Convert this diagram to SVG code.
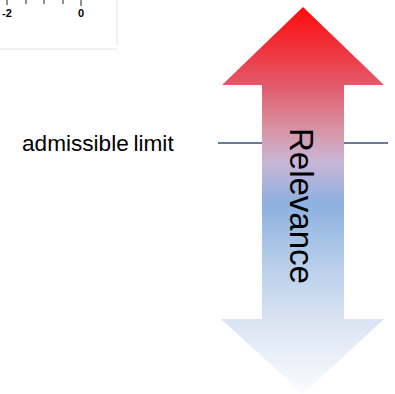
<svg xmlns="http://www.w3.org/2000/svg" width="395" height="394" viewBox="0 0 395 394">
<style>
.lbl{font-family:"Liberation Sans",Arial,sans-serif;fill:#000}
.ax{stroke:#222;stroke-width:1;fill:none}
.lim{stroke:#6a7a98;stroke-width:2;fill:none}
.frame{stroke:#e4e4e4;stroke-width:1;fill:none}
</style>
<defs>
<linearGradient id="rel" x1="0" y1="7" x2="0" y2="393" gradientUnits="userSpaceOnUse">
<stop offset="0" stop-color="#ff0a0a"/>
<stop offset="0.2" stop-color="#e35868"/>
<stop offset="0.31" stop-color="#d890a0"/>
<stop offset="0.4" stop-color="#c9b6d6"/>
<stop offset="0.51" stop-color="#8db0e0"/>
<stop offset="0.66" stop-color="#b6cdea"/>
<stop offset="0.81" stop-color="#d9e3f2"/>
<stop offset="1" stop-color="#fafcfe"/>
</linearGradient>
</defs>
<g id="axis-fragment">
<line class="frame" x1="117" y1="0" x2="117" y2="46"/>
<line class="frame" x1="0" y1="49" x2="117" y2="49"/>
<path class="ax" d="M7,0V5M26,0V4M44,0V4M63,0V4M81,0V6"/>
<text class="lbl" x="7" y="17" font-size="11" font-weight="bold" text-anchor="middle">-2</text>
<text class="lbl" x="81" y="17" font-size="11" font-weight="bold" text-anchor="middle">0</text>
</g>
<g id="connectors">
<line class="lim" x1="218" y1="143" x2="262" y2="143"/>
<line class="lim" x1="344" y1="143" x2="388" y2="143"/>
</g>
<g id="limit-label">
<text class="lbl" x="22" y="151" font-size="22.6" word-spacing="-1.5">admissible limit</text>
</g>
<g id="relevance-arrow">
<path d="M303,7 L384,85 L344,85 L344,319 L384,319 L303,394 L221,319 L262,319 L262,85 L222,85 Z" fill="url(#rel)"/>
<text class="lbl" transform="translate(290,128) rotate(90)" font-size="33">Relevance</text>
</g>
</svg>
